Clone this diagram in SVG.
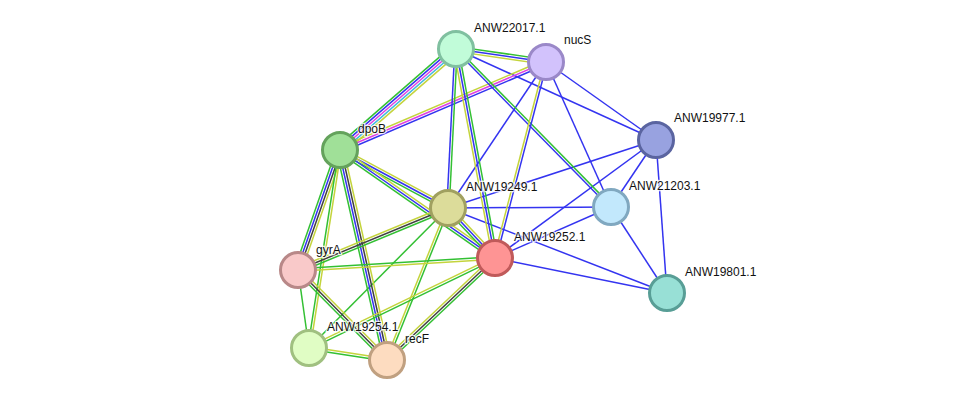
<svg xmlns="http://www.w3.org/2000/svg" width="975" height="406" viewBox="0 0 975 406">
<style>
#edges line{stroke-width:1.5;fill:none}
.g{stroke:#33c033}.b{stroke:#3434f0}.k{stroke:#404040}.m{stroke:#e040e0}.c{stroke:#40b8e0}.y{stroke:#c4d43c}
.node circle{stroke-width:3}
.node text{font-family:"Liberation Sans",Arial,sans-serif;font-size:12px;fill:#111;stroke:#fff;stroke-width:2.5;stroke-opacity:0.8;paint-order:stroke}
</style>
<rect width="975" height="406" fill="#fff"/>
<g id="edges">
<!-- single lines -->
<line class="b" x1="456" y1="49" x2="656" y2="140"/>
<line class="b" x1="546" y1="62" x2="448" y2="208"/>
<line class="b" x1="546" y1="62" x2="611" y2="207"/>
<line class="b" x1="546" y1="62" x2="656" y2="140"/>
<line class="b" x1="448" y1="208" x2="611" y2="207"/>
<line class="b" x1="448" y1="208" x2="656" y2="140"/>
<line class="b" x1="448" y1="208" x2="667" y2="293"/>
<line class="b" x1="495" y1="258" x2="611" y2="207"/>
<line class="b" x1="495" y1="258" x2="656" y2="140"/>
<line class="b" x1="495" y1="258" x2="667" y2="293"/>
<line class="b" x1="611" y1="207" x2="656" y2="140"/>
<line class="b" x1="611" y1="207" x2="667" y2="293"/>
<line class="b" x1="656" y1="140" x2="667" y2="293"/>
<line class="g" x1="448" y1="208" x2="309" y2="348"/>
<line class="g" x1="298" y1="270" x2="309" y2="348"/>
<!-- multi lines -->
<g transform="translate(456,49) rotate(8.22)"><line class="g" x1="0" y1="-2.4" x2="90.9" y2="-2.4"/><line class="b" x1="0" y1="0" x2="90.9" y2="0"/><line class="y" x1="0" y1="2.4" x2="90.9" y2="2.4"/></g>
<g transform="translate(340,150) rotate(-41.05)"><line class="g" x1="0" y1="-4.8" x2="153.8" y2="-4.8"/><line class="b" x1="0" y1="-2.4" x2="153.8" y2="-2.4"/><line class="m" x1="0" y1="0" x2="153.8" y2="0"/><line class="c" x1="0" y1="2.4" x2="153.8" y2="2.4"/><line class="y" x1="0" y1="4.8" x2="153.8" y2="4.8"/></g>
<g transform="translate(340,150) rotate(-23.13)"><line class="b" x1="0" y1="2.4" x2="224" y2="2.4"/><line class="m" x1="0" y1="0" x2="224" y2="0"/><line class="y" x1="0" y1="-2.4" x2="224" y2="-2.4"/></g>
<g transform="translate(456,49) rotate(92.88)"><line class="g" x1="0" y1="-1.2" x2="159.2" y2="-1.2"/><line class="b" x1="0" y1="1.2" x2="159.2" y2="1.2"/></g>
<g transform="translate(456,49) rotate(79.43)"><line class="g" x1="0" y1="-2.4" x2="212.6" y2="-2.4"/><line class="b" x1="0" y1="0" x2="212.6" y2="0"/><line class="y" x1="0" y1="2.4" x2="212.6" y2="2.4"/></g>
<g transform="translate(456,49) rotate(45.55)"><line class="g" x1="0" y1="-1.2" x2="221.3" y2="-1.2"/><line class="b" x1="0" y1="1.2" x2="221.3" y2="1.2"/></g>
<g transform="translate(546,62) rotate(104.58)"><line class="b" x1="0" y1="-1.2" x2="202.5" y2="-1.2"/><line class="y" x1="0" y1="1.2" x2="202.5" y2="1.2"/></g>
<g transform="translate(340,150) rotate(28.24)"><line class="g" x1="0" y1="2.4" x2="122.6" y2="2.4"/><line class="b" x1="0" y1="0" x2="122.6" y2="0"/><line class="y" x1="0" y1="-2.4" x2="122.6" y2="-2.4"/></g>
<g transform="translate(340,150) rotate(34.87)"><line class="g" x1="0" y1="2.4" x2="188.9" y2="2.4"/><line class="b" x1="0" y1="0" x2="188.9" y2="0"/><line class="y" x1="0" y1="-2.4" x2="188.9" y2="-2.4"/></g>
<g transform="translate(340,150) rotate(109.29)"><line class="g" x1="0" y1="3.6" x2="127.1" y2="3.6"/><line class="b" x1="0" y1="1.2" x2="127.1" y2="1.2"/><line class="k" x1="0" y1="-1.2" x2="127.1" y2="-1.2"/><line class="y" x1="0" y1="-3.6" x2="127.1" y2="-3.6"/></g>
<g transform="translate(340,150) rotate(98.90)"><line class="g" x1="0" y1="1.2" x2="200.4" y2="1.2"/><line class="y" x1="0" y1="-1.2" x2="200.4" y2="-1.2"/></g>
<g transform="translate(340,150) rotate(77.38)"><line class="g" x1="0" y1="3.6" x2="215.2" y2="3.6"/><line class="b" x1="0" y1="1.2" x2="215.2" y2="1.2"/><line class="k" x1="0" y1="-1.2" x2="215.2" y2="-1.2"/><line class="y" x1="0" y1="-3.6" x2="215.2" y2="-3.6"/></g>
<g transform="translate(448,208) rotate(46.77)"><line class="g" x1="0" y1="2.4" x2="68.6" y2="2.4"/><line class="b" x1="0" y1="0" x2="68.6" y2="0"/><line class="y" x1="0" y1="-2.4" x2="68.6" y2="-2.4"/></g>
<g transform="translate(448,208) rotate(157.54)"><line class="g" x1="0" y1="-2.4" x2="162.3" y2="-2.4"/><line class="k" x1="0" y1="0" x2="162.3" y2="0"/><line class="y" x1="0" y1="2.4" x2="162.3" y2="2.4"/></g>
<g transform="translate(448,208) rotate(111.86)"><line class="g" x1="0" y1="-1.2" x2="163.8" y2="-1.2"/><line class="y" x1="0" y1="1.2" x2="163.8" y2="1.2"/></g>
<g transform="translate(298,270) rotate(-3.49)"><line class="g" x1="0" y1="-1.2" x2="197.4" y2="-1.2"/><line class="y" x1="0" y1="1.2" x2="197.4" y2="1.2"/></g>
<g transform="translate(309,348) rotate(-25.82)"><line class="g" x1="0" y1="1.2" x2="206.6" y2="1.2"/><line class="y" x1="0" y1="-1.2" x2="206.6" y2="-1.2"/></g>
<g transform="translate(387,360) rotate(-43.36)"><line class="g" x1="0" y1="2.4" x2="148.6" y2="2.4"/><line class="k" x1="0" y1="0" x2="148.6" y2="0"/><line class="y" x1="0" y1="-2.4" x2="148.6" y2="-2.4"/></g>
<g transform="translate(298,270) rotate(45.32)"><line class="g" x1="0" y1="2.4" x2="126.6" y2="2.4"/><line class="k" x1="0" y1="0" x2="126.6" y2="0"/><line class="y" x1="0" y1="-2.4" x2="126.6" y2="-2.4"/></g>
<g transform="translate(309,348) rotate(8.75)"><line class="g" x1="0" y1="1.2" x2="78.9" y2="1.2"/><line class="y" x1="0" y1="-1.2" x2="78.9" y2="-1.2"/></g>
</g>
<g id="ANW22017.1" class="node"><circle cx="456" cy="49" r="17.5" fill="#c1fcd9" stroke="#80c0a0"/><text x="474" y="32">ANW22017.1</text></g>
<g id="nucS" class="node"><circle cx="546" cy="62" r="17.5" fill="#d2c2fc" stroke="#9a88c8"/><text x="564" y="44">nucS</text></g>
<g id="ANW19977.1" class="node"><circle cx="656" cy="140" r="17.5" fill="#98a2e0" stroke="#5a64a0"/><text x="674" y="122">ANW19977.1</text></g>
<g id="dpoB" class="node"><circle cx="340" cy="150" r="17.5" fill="#a0e098" stroke="#64a25c"/><text x="358" y="133">dpoB</text></g>
<g id="ANW19249.1" class="node"><circle cx="448" cy="208" r="17.5" fill="#dcdc9a" stroke="#a0a060"/><text x="466" y="191">ANW19249.1</text></g>
<g id="ANW21203.1" class="node"><circle cx="611" cy="207" r="17.5" fill="#c2e8fc" stroke="#80a8c0"/><text x="629" y="190">ANW21203.1</text></g>
<g id="ANW19252.1" class="node"><circle cx="495" cy="258" r="17.5" fill="#fe9494" stroke="#c05a5a"/><text x="514" y="241">ANW19252.1</text></g>
<g id="gyrA" class="node"><circle cx="298" cy="270" r="17.5" fill="#f9c9c9" stroke="#b88888"/><text x="316" y="254">gyrA</text></g>
<g id="ANW19801.1" class="node"><circle cx="667" cy="293" r="17.5" fill="#98e0d6" stroke="#589e96"/><text x="685" y="276">ANW19801.1</text></g>
<g id="ANW19254.1" class="node"><circle cx="309" cy="348" r="17.5" fill="#e0fdc4" stroke="#a0c080"/><text x="327" y="331">ANW19254.1</text></g>
<g id="recF" class="node"><circle cx="387" cy="360" r="17.5" fill="#fddcc0" stroke="#c0a080"/><text x="405" y="343">recF</text></g>
</svg>
